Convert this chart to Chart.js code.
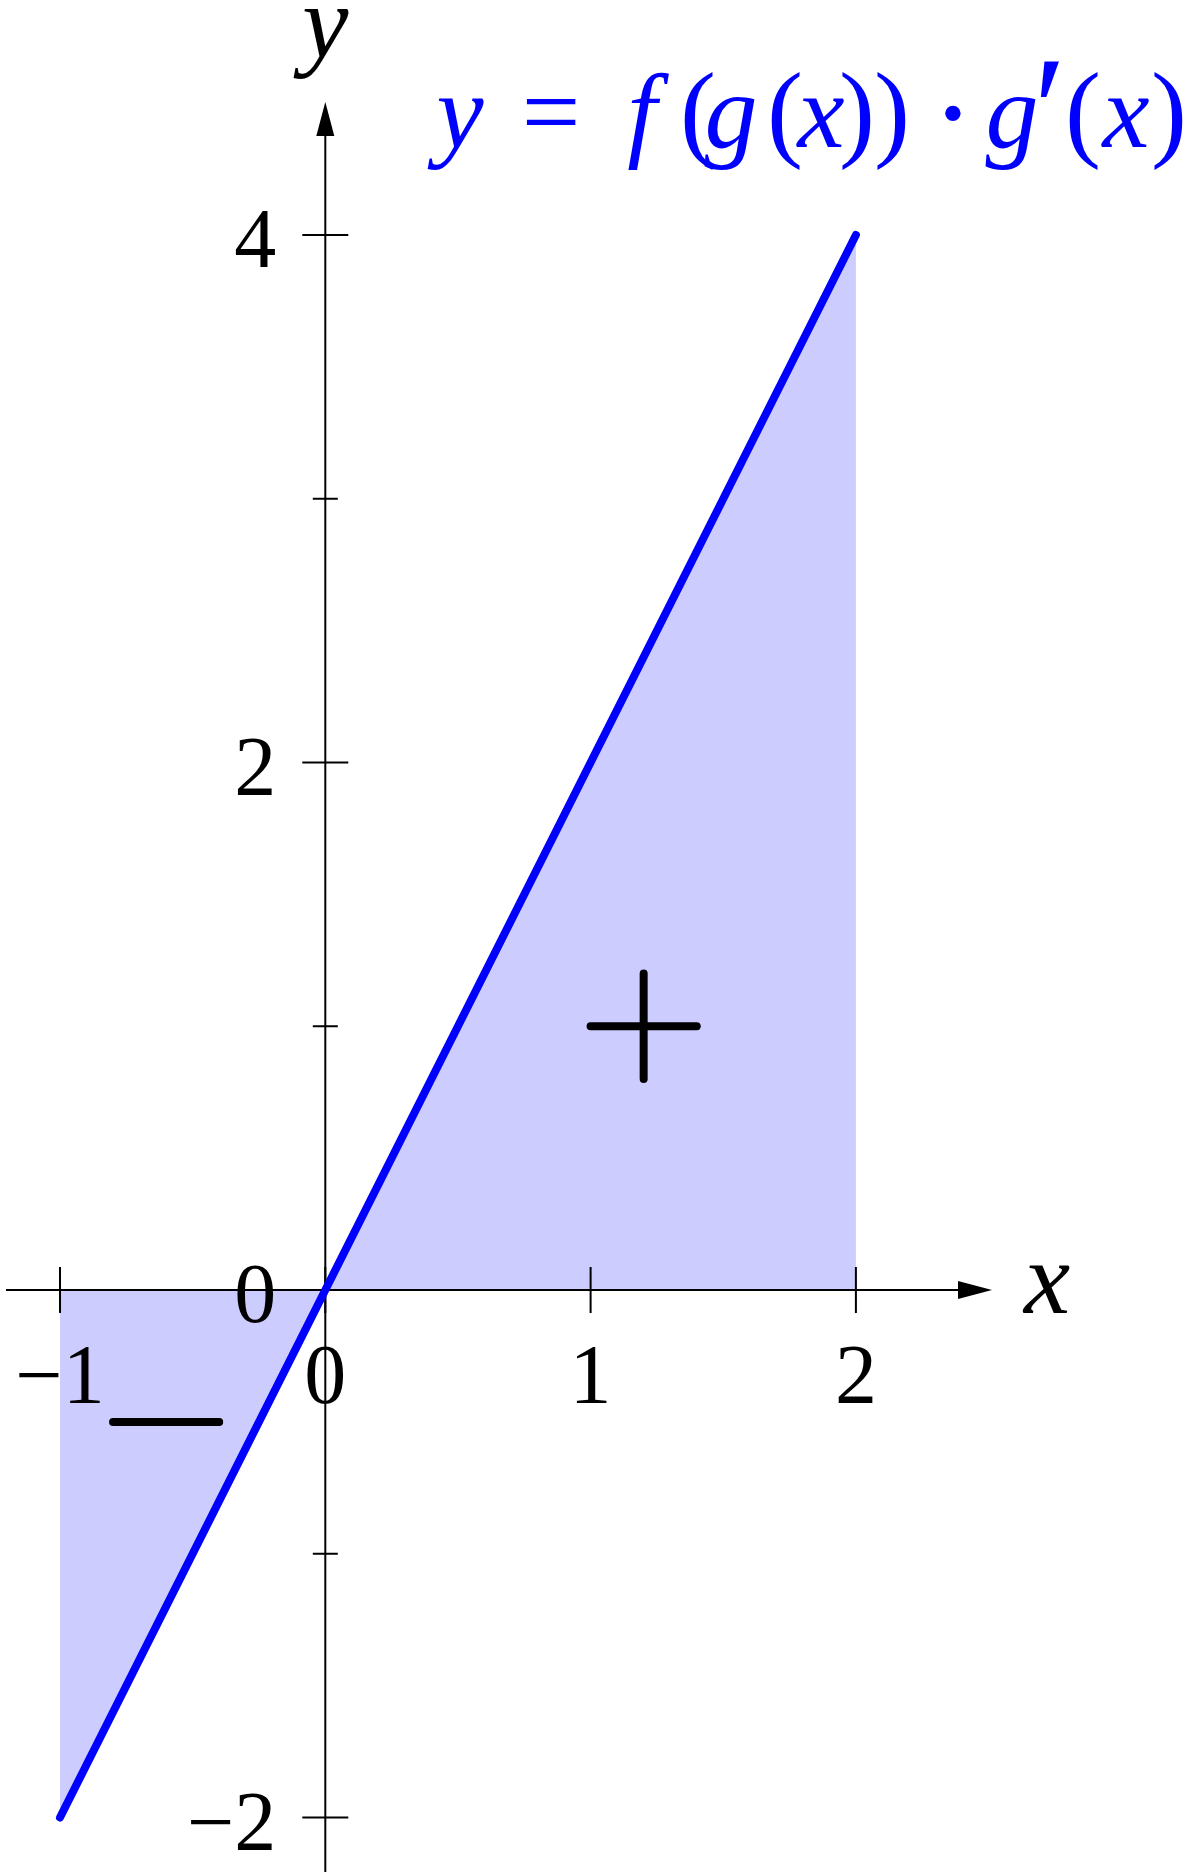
<!DOCTYPE html>
<html>
<head>
<meta charset="utf-8">
<script src="https://cdn.jsdelivr.net/npm/chart.js@4/dist/chart.umd.min.js"></script>
<style>
  html, body { margin: 0; padding: 0; background: #fff; }
  canvas { display: block; }
</style>
</head>
<body>
<canvas id="plot" width="1202" height="1872"></canvas>
<script>
// curve y = f(g(x)) * g'(x), sampled at its corners
const xValues = [-1, 0, 1, 2];
const yValues = [-2, 0, 2, 4];

// sign marks inside the shaded regions
const plusX = [1.0, 1.4];
const plusY = [0.8, 1.2];
const plusCenter = [1.2, 1];
const minusX = [-0.8, -0.4];
const minusY = -0.5;

// axis ticks
const xTickValues = [-1, 0, 1, 2];
const xTickLabels = ['\u22121', '0', '1', '2'];
const yTickValues = [-2, 0, 2, 4];
const yTickLabels = ['\u22122', '0', '2', '4'];
const yMinorTicks = [-1, 1, 3];

const titleParts = ['y', '=', 'f', '(', 'g', '(', 'x', ')', ')', '\u00b7', 'g', '\u2032', '(', 'x', ')'];

const toPoints = (xs, ys) => xs.map((x, i) => ({ x: x, y: ys[i] }));

const FAMILY = '"Liberation Serif", serif';

// axes, ticks and labels, drawn right after the shaded area
const axesPlugin = {
    id: 'texAxes',
    afterDatasetDraw(chart, args) {
        if (args.index !== 0) return;
        const { ctx, scales: { x, y } } = chart;
        const x0 = x.getPixelForValue(0);
        const y0 = y.getPixelForValue(0);

        ctx.save();
        ctx.strokeStyle = '#000';
        ctx.fillStyle = '#000';
        ctx.lineWidth = 2;

        // x axis with arrow
        const xEnd = 992;
        ctx.beginPath();
        ctx.moveTo(6, y0);
        ctx.lineTo(xEnd - 30, y0);
        ctx.stroke();
        ctx.beginPath();
        ctx.moveTo(xEnd, y0);
        ctx.lineTo(xEnd - 34, y0 - 9);
        ctx.lineTo(xEnd - 34, y0 + 9);
        ctx.closePath();
        ctx.fill();

        // y axis with arrow
        const yEnd = 102;
        ctx.beginPath();
        ctx.moveTo(x0, chart.height);
        ctx.lineTo(x0, yEnd + 30);
        ctx.stroke();
        ctx.beginPath();
        ctx.moveTo(x0, yEnd);
        ctx.lineTo(x0 - 9, yEnd + 34);
        ctx.lineTo(x0 + 9, yEnd + 34);
        ctx.closePath();
        ctx.fill();

        // ticks
        ctx.beginPath();
        xTickValues.forEach(v => {
            const px = x.getPixelForValue(v);
            ctx.moveTo(px, y0 - 23);
            ctx.lineTo(px, y0 + 23);
        });
        yTickValues.forEach(v => {
            const py = y.getPixelForValue(v);
            ctx.moveTo(x0 - 23, py);
            ctx.lineTo(x0 + 23, py);
        });
        yMinorTicks.forEach(v => {
            const py = y.getPixelForValue(v);
            ctx.moveTo(x0 - 12.5, py);
            ctx.lineTo(x0 + 12.5, py);
        });
        ctx.stroke();

        // tick labels
        ctx.font = '84px ' + FAMILY;
        ctx.textBaseline = 'alphabetic';
        ctx.textAlign = 'center';
        xTickValues.forEach((v, i) => {
            ctx.fillText(xTickLabels[i], x.getPixelForValue(v), y0 + 113);
        });
        ctx.textAlign = 'right';
        yTickValues.forEach((v, i) => {
            ctx.fillText(yTickLabels[i], x0 - 49, y.getPixelForValue(v) + 32);
        });

        // axis names
        ctx.font = 'italic 104px ' + FAMILY;
        ctx.textAlign = 'center';
        ctx.fillText('x', 1047, y0 + 23);
        ctx.fillText('y', x0, 57);
        ctx.restore();
    }
};

// blue formula label above the plot
const titlePlugin = {
    id: 'formula',
    afterDraw(chart) {
        const ctx = chart.ctx;
        const centers = [460, 551, 642, 698, 731, 785, 821, 857, 892, 953, 1012, 1050, 1083, 1126, 1169];
        ctx.save();
        ctx.fillStyle = '#0000ff';
        ctx.textAlign = 'center';
        ctx.textBaseline = 'alphabetic';
        titleParts.forEach((t, i) => {
            let font = 'italic 106px ' + FAMILY;
            let base = 147;
            if (t === '(' || t === ')') font = '108px ' + FAMILY;
            if (t === '=') font = '104px ' + FAMILY;
            if (t === '\u00b7') { font = '130px ' + FAMILY; base = 156; }
            if (t === '\u2032') { font = '150px ' + FAMILY; base = 160; }
            ctx.font = font;
            ctx.fillText(t, centers[i], base);
        });
        ctx.restore();
    }
};

const markStyle = {
    showLine: true,
    borderColor: '#000',
    borderWidth: 8,
    borderCapStyle: 'round',
    pointRadius: 0,
    fill: false,
    clip: false,
    order: 1
};

new Chart(document.getElementById('plot').getContext('2d'), {
    type: 'scatter',
    data: {
        datasets: [
            {
                label: 'area',
                data: toPoints(xValues, yValues),
                showLine: true,
                fill: 'origin',
                backgroundColor: '#ccccff',
                borderWidth: 0,
                borderColor: 'rgba(0,0,0,0)',
                pointRadius: 0,
                order: 3
            },
            {
                label: 'curve',
                data: toPoints(xValues, yValues),
                showLine: true,
                fill: false,
                borderColor: '#0000ff',
                borderWidth: 8,
                borderCapStyle: 'round',
                pointRadius: 0,
                clip: false,
                order: 2
            },
            Object.assign({ label: 'plus-h', data: toPoints(plusX, [plusCenter[1], plusCenter[1]]) }, markStyle),
            Object.assign({ label: 'plus-v', data: toPoints([plusCenter[0], plusCenter[0]], plusY) }, markStyle),
            Object.assign({ label: 'minus', data: toPoints(minusX, [minusY, minusY]) }, markStyle)
        ]
    },
    options: {
        responsive: false,
        devicePixelRatio: 1,
        animation: false,
        layout: { padding: 0 },
        scales: {
            x: { type: 'linear', min: -1.2262, max: 3.3046, display: false },
            y: { type: 'linear', min: -2.2066, max: 4.891, display: false }
        },
        plugins: {
            legend: { display: false },
            tooltip: { enabled: false }
        }
    },
    plugins: [axesPlugin, titlePlugin]
});
</script>
</body>
</html>
